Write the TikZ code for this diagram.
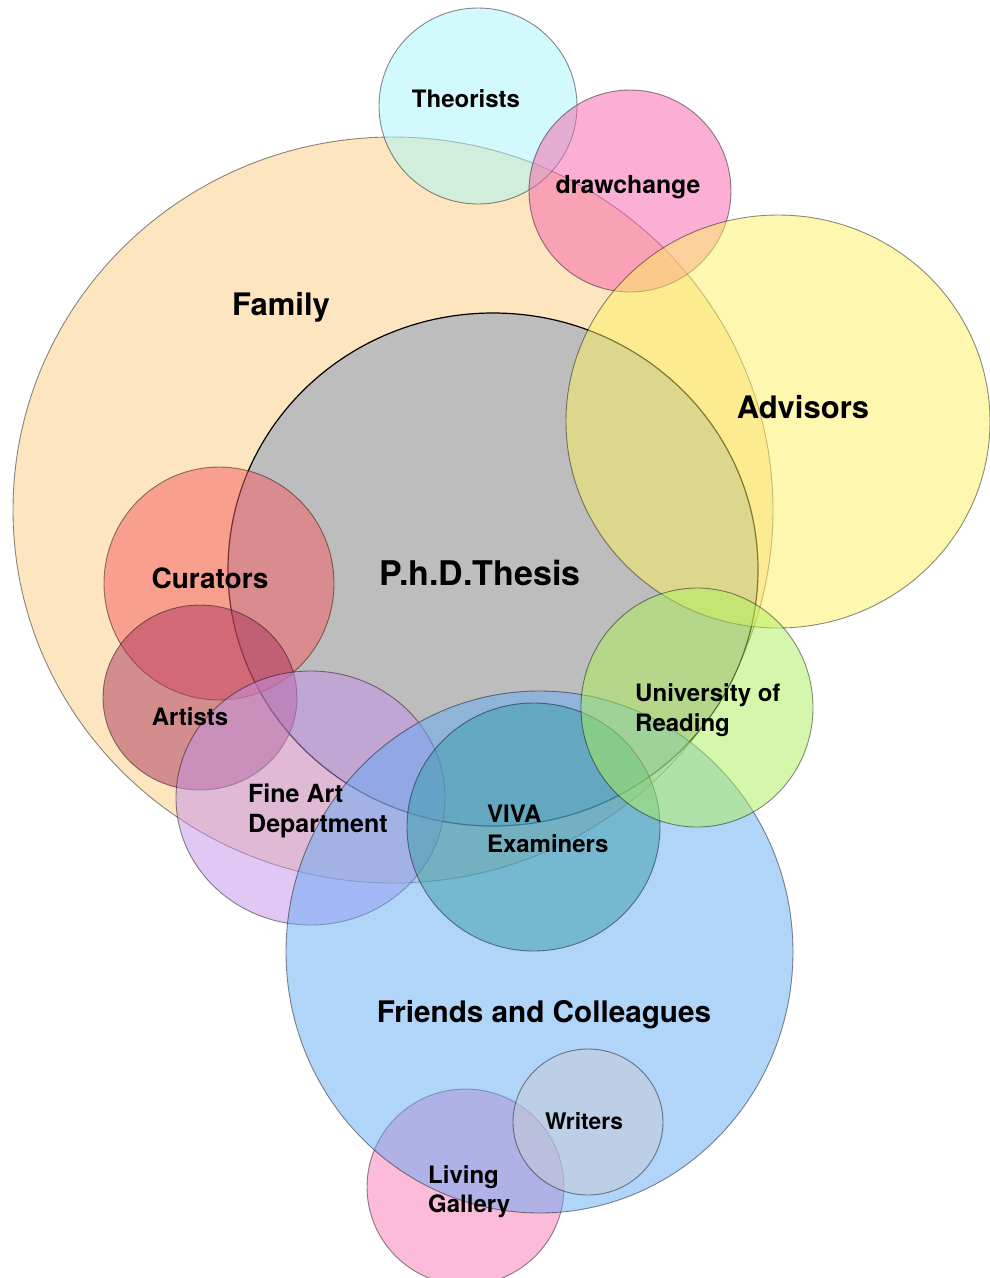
\documentclass[tikz,border=0pt]{standalone}
\usepackage{fontspec}
\setmainfont{TeX Gyre Heros}
\usetikzlibrary{shapes.geometric}
\begin{document}
\begin{tikzpicture}[x=1pt,y=-1pt,
  set/.style={ellipse, inner sep=0pt, outer sep=0pt, fill opacity=0.5, draw=black, draw opacity=0.45, line width=0.9pt},
  lbl/.style={font=\bfseries\fontsize{24}{30}\selectfont, text=black, inner sep=0pt, align=left},
  biglbl/.style={font=\bfseries\fontsize{31}{36}\selectfont, text=black, inner sep=0pt}]
\definecolor{famC}{RGB}{251,205,129}
\definecolor{theoC}{RGB}{167,245,249}
\definecolor{drawC}{RGB}{249,97,173}
\definecolor{advC}{RGB}{253,241,97}
\definecolor{phdC}{RGB}{189,189,189}
\definecolor{curC}{RGB}{245,90,94}
\definecolor{artC}{RGB}{171,54,92}
\definecolor{fineC}{RGB}{197,145,235}
\definecolor{friC}{RGB}{101,171,245}
\definecolor{vivaC}{RGB}{58,157,168}
\definecolor{uniC}{RGB}{173,241,89}
\definecolor{wriC}{RGB}{200,203,214}
\definecolor{livC}{RGB}{251,121,181}
\useasboundingbox (0,0) rectangle (990,1278);
\fill[white] (0,0) rectangle (990,1278);
% sets
\node[set, fill=famC, minimum width=760pt, minimum height=746pt] (family) at (393,510) {};
\node[set, fill=theoC, minimum width=198pt, minimum height=196pt] (theorists) at (478,106) {};
\node[set, fill=drawC, minimum width=202pt, minimum height=202pt] (drawchange) at (630,191) {};
\node[ellipse, inner sep=0pt, outer sep=0pt, fill=phdC, draw=black, line width=1.2pt, minimum width=530pt, minimum height=513pt] (phd) at (493,569.5) {};
\node[set, fill=advC, minimum width=424pt, minimum height=413pt] (advisors) at (778,421.5) {};
\node[set, fill=curC, minimum width=230pt, minimum height=233pt] (curators) at (219,583.5) {};
\node[set, fill=artC, minimum width=194pt, minimum height=185pt] (artists) at (200,697.5) {};
\node[set, fill=fineC, minimum width=269pt, minimum height=254pt] (fineart) at (310.5,798) {};
\node[set, fill=livC, minimum width=197pt, minimum height=196pt] (living) at (465.5,1187) {};
\node[set, fill=friC, minimum width=507pt, minimum height=522pt] (friends) at (539.5,952) {};
\node[set, fill=vivaC, minimum width=253pt, minimum height=248pt] (viva) at (533.5,827) {};
\node[set, fill=uniC, minimum width=232pt, minimum height=239pt] (reading) at (697,707.5) {};
\node[set, fill=wriC, minimum width=150pt, minimum height=146pt] (writers) at (588,1122) {};
% labels
\node[lbl, anchor=base] (tTheo) at (466,107) {Theorists};
\node[lbl, anchor=base, font=\bfseries\fontsize{24.8}{30}\selectfont] (tDraw) at (628,193) {drawchange};
\node[biglbl, anchor=base] (tFam) at (281,315) {Family};
\node[biglbl, anchor=base] (tAdv) at (803,418) {Advisors};
\node[font=\bfseries\fontsize{34}{38}\selectfont, inner sep=0pt, anchor=base] (tPhd) at (480,585) {P.h.D.Thesis};
\node[font=\bfseries\fontsize{28}{32}\selectfont, inner sep=0pt, anchor=base] (tCur) at (210,588) {Curators};
\node[lbl, anchor=base] (tArt) at (190,725) {Artists};
\node[lbl, anchor=base west, font=\bfseries\fontsize{25}{30}\selectfont] (tFine) at (248,832) {Fine Art\\Department};
\node[lbl, anchor=base west] (tViva) at (487,852) {VIVA\\Examiners};
\node[lbl, anchor=base west] (tUni) at (635,731) {University of\\Reading};
\node[biglbl, anchor=base, font=\bfseries\fontsize{29.7}{34}\selectfont] (tFri) at (544,1022) {Friends and Colleagues};
\node[lbl, anchor=base, font=\bfseries\fontsize{22.8}{28}\selectfont] (tWri) at (584,1129) {Writers};
\node[lbl, anchor=base west, font=\bfseries\fontsize{24}{28.5}\selectfont] (tLiv) at (428,1212) {Living\\Gallery};
\end{tikzpicture}
\end{document}
